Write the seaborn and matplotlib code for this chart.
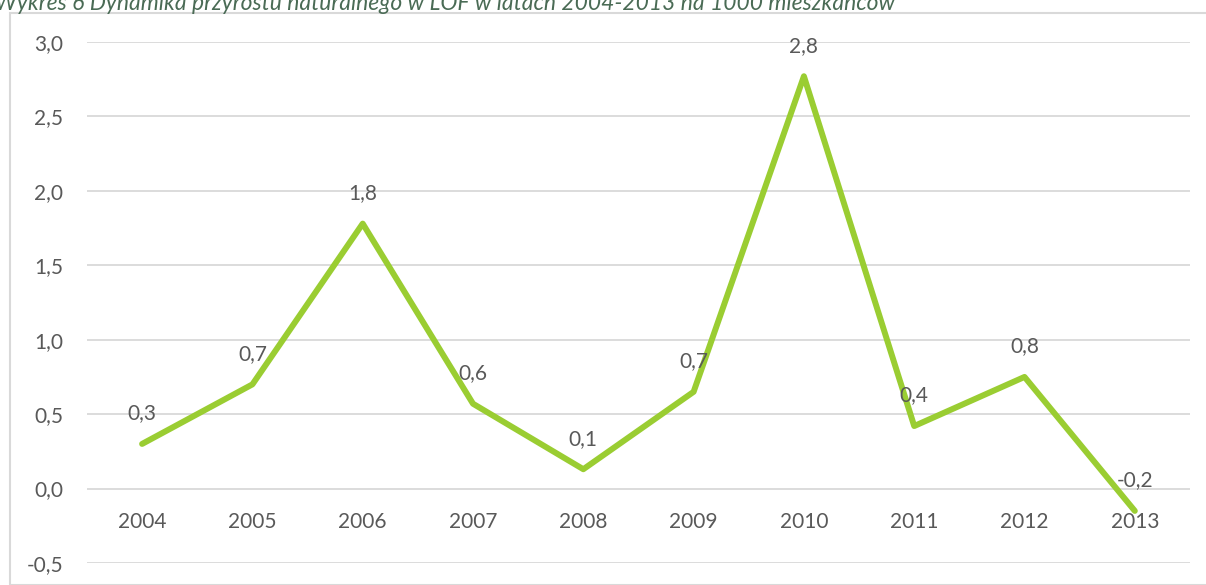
import matplotlib.pyplot as plt
import seaborn as sns
import pandas as pd
from matplotlib.patches import Rectangle

# dane
years = ['2004', '2005', '2006', '2007', '2008', '2009', '2010', '2011', '2012', '2013']
values = [0.30, 0.70, 1.78, 0.57, 0.13, 0.65, 2.77, 0.42, 0.75, -0.15]
labels = ['0,3', '0,7', '1,8', '0,6', '0,1', '0,7', '2,8', '0,4', '0,8', '-0,2']
title = 'Wykres 6 Dynamika przyrostu naturalnego w LOF w latach 2004-2013 na 1000 mieszkańców'

sns.set_theme(style='white')
plt.rcParams['font.family'] = ['Lato', 'DejaVu Sans']

txt = '#595959'
df = pd.DataFrame({'rok': range(len(years)), 'wartosc': values})

fig = plt.figure(figsize=(12.06, 5.85), dpi=100)
fig.patch.set_facecolor('white')
ax = fig.add_axes([0.0721, 0.0376, 0.9146, 0.8906])

sns.lineplot(data=df, x='rok', y='wartosc', color='#9ACD32', linewidth=4.3, ax=ax)

ax.set_xlim(-0.5, len(years) - 0.5)
ax.set_ylim(-0.5, 3.0)
ax.set_yticks([-0.5, 0, 0.5, 1.0, 1.5, 2.0, 2.5, 3.0])
ax.set_yticklabels([f'{v:.1f}'.replace('.', ',') for v in ax.get_yticks()])
ax.yaxis.grid(True, color='#d9d9d9', linewidth=1.3)
ax.set_axisbelow(True)

ax.set_xticks(range(len(years)))
ax.set_xticklabels(years)
ax.spines['bottom'].set_position(('data', 0))
for s in ax.spines.values():
    s.set_visible(False)
ax.tick_params(axis='x', length=0, pad=17, labelsize=15, labelcolor=txt)
ax.tick_params(axis='y', length=0, pad=17, labelsize=15, labelcolor=txt)
ax.set_xlabel('')
ax.set_ylabel('')

for i, (v, lab) in enumerate(zip(values, labels)):
    ax.annotate(lab, (i, v), xytext=(0, 22), textcoords='offset points',
                ha='center', va='center', fontsize=15, color=txt)

# ramka wykresu
fig.patches.append(Rectangle((10 / 1206, 0), 1.0, 1 - 13 / 585, transform=fig.transFigure,
                             fill=False, edgecolor='#d9d9d9', linewidth=1.5))

fig.text(-0.004, 1 - 3 / 585, title, fontsize=16.5, style='italic',
         color='#4A6B55', ha='left', va='center')

fig.savefig('out.png', dpi=100)
